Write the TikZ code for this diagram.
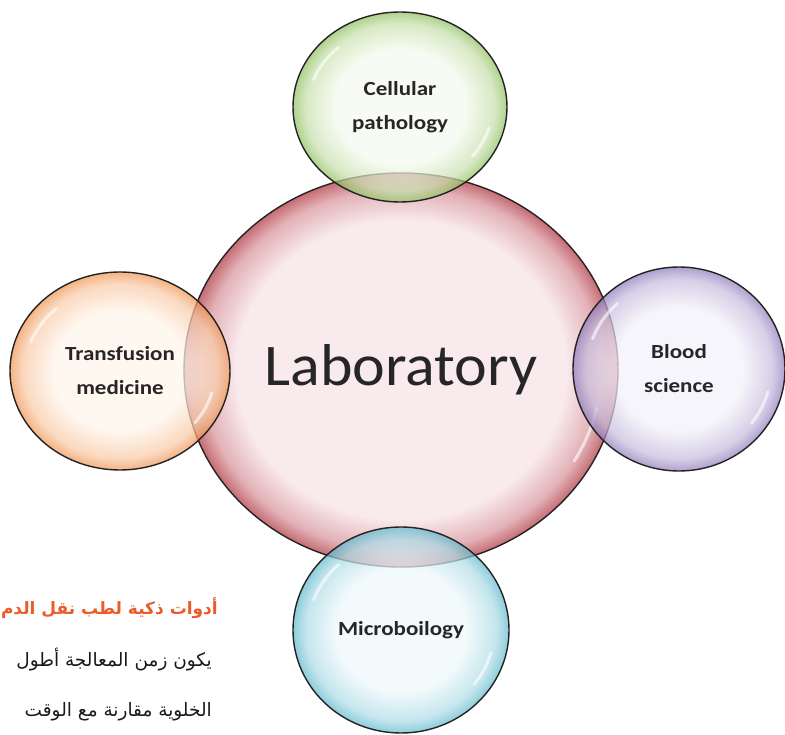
\documentclass[tikz,border=0pt]{standalone}
\usepackage{fontspec}
\setmainfont{Carlito}
\newfontfamily\labfont[FakeStretch=1.05]{Carlito}
\newfontfamily\subfont[FakeStretch=1.15]{Carlito}
\newfontfamily\arabicfont[Script=Arabic]{DejaVu Sans}
\TeXXeTstate=1
\usetikzlibrary{shapes}

\definecolor{labin}{RGB}{249,234,237}
\definecolor{labedge}{RGB}{198,108,116}
\definecolor{cellin}{RGB}{245,250,238}
\definecolor{celledge}{RGB}{146,192,96}
\definecolor{bloodin}{RGB}{243,241,249}
\definecolor{bloodedge}{RGB}{144,124,188}
\definecolor{transin}{RGB}{255,245,236}
\definecolor{transedge}{RGB}{240,150,84}
\definecolor{microin}{RGB}{238,248,251}
\definecolor{microedge}{RGB}{96,186,206}
\definecolor{arorange}{RGB}{236,92,42}
\definecolor{rim}{RGB}{35,35,35}

\pgfdeclareradialshading{labshade}{\pgfpointorigin}{color(0bp)=(labin); color(19bp)=(labin); color(23bp)=(labin!55!labedge); color(25bp)=(labedge); color(50bp)=(labedge)}
\pgfdeclareradialshading{cellshade}{\pgfpointorigin}{color(0bp)=(cellin); color(15bp)=(cellin); color(22bp)=(cellin!55!celledge); color(25bp)=(celledge); color(50bp)=(celledge)}
\pgfdeclareradialshading{bloodshade}{\pgfpointorigin}{color(0bp)=(bloodin); color(15bp)=(bloodin); color(22bp)=(bloodin!55!bloodedge); color(25bp)=(bloodedge); color(50bp)=(bloodedge)}
\pgfdeclareradialshading{transshade}{\pgfpointorigin}{color(0bp)=(transin); color(15bp)=(transin); color(22bp)=(transin!55!transedge); color(25bp)=(transedge); color(50bp)=(transedge)}
\pgfdeclareradialshading{microshade}{\pgfpointorigin}{color(0bp)=(microin); color(15bp)=(microin); color(22bp)=(microin!55!microedge); color(25bp)=(microedge); color(50bp)=(microedge)}

\begin{document}
\begin{tikzpicture}[x=1pt, y=-1pt,
    bubble/.style={ellipse, draw=rim, line width=1.4pt, inner sep=0pt, text=black!85},
    satellite/.style={bubble, fill opacity=.72, text opacity=1, align=center,
      font=\subfont\bfseries\fontsize{20}{34}\selectfont},
    glint/.style={white, line width=3pt, line cap=round, opacity=.6},
    arabic/.style={anchor=east, inner sep=0pt, text=black!90, font=\arabicfont\fontsize{18.5}{18.5}\selectfont}]
  \useasboundingbox (0,0) rectangle (785,735);
  \node[bubble, shading=labshade, minimum width=434, minimum height=394,
        font=\labfont\fontsize{59}{59}\selectfont] (lab) at (401,370) {Laboratory};
  \draw[glint] (lab.center) ++(12:200 and 182) arc[start angle=12, end angle=30, x radius=200, y radius=182];
  \node[satellite, shading=cellshade, minimum width=214, minimum height=190] (cell) at (400,107) {Cellular\\pathology};
  \node[satellite, shading=transshade, minimum width=220, minimum height=198] (trans) at (120,371) {Transfusion\\medicine};
  \node[satellite, shading=bloodshade, minimum width=212, minimum height=204] (blood) at (679,369) {Blood\\science};
  \node[satellite, shading=microshade, minimum width=216, minimum height=206] (micro) at (401,630) {Microboilogy};
  % highlights on the bubbles
  \foreach \b/\rx/\ry in {cell/92/80, trans/95/84, blood/92/88, micro/93/88} {
    \draw[glint] (\b.center) ++(200:{\rx} and {\ry}) arc[start angle=200, end angle=228, x radius=\rx, y radius=\ry];
    \draw[glint] (\b.center) ++(15:{\rx} and {\ry}) arc[start angle=15, end angle=38, x radius=\rx, y radius=\ry];
  }
  % text cut from the page below
  \node[arabic, text=arorange, font=\arabicfont\bfseries\fontsize{17}{17}\selectfont] (artitle) at (218,608) {\beginR أدوات ذكية لطب نقل الدم\endR};
  \node[arabic] (arline1) at (212,660) {\beginR يكون زمن المعالجة أطول\endR};
  \node[arabic] (arline2) at (212,712) {\beginR الخلوية مقارنة مع الوقت\endR};
\end{tikzpicture}
\end{document}
